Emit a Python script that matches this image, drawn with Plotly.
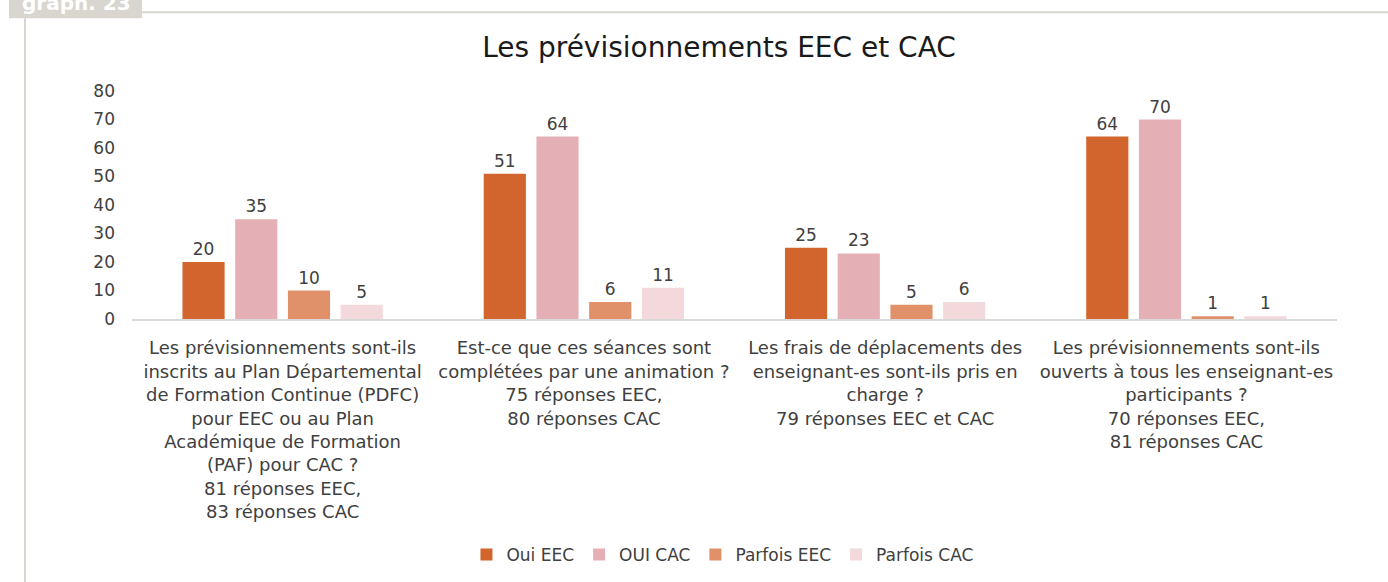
import plotly.graph_objects as go

categories = [
    "Les prévisionnements sont-ils<br>inscrits au Plan Départemental<br>de Formation Continue (PDFC)<br>pour EEC ou au Plan<br>Académique de Formation<br>(PAF) pour CAC ?<br>81 réponses EEC,<br>83 réponses CAC",
    "Est-ce que ces séances sont<br>complétées par une animation ?<br>75 réponses EEC,<br>80 réponses CAC",
    "Les frais de déplacements des<br>enseignant-es sont-ils pris en<br>charge ?<br>79 réponses EEC et CAC",
    "Les prévisionnements sont-ils<br>ouverts à tous les enseignant-es<br>participants ?<br>70 réponses EEC,<br>81 réponses CAC",
]
series_names = ["Oui EEC", "OUI CAC", "Parfois EEC", "Parfois CAC"]
oui_eec = [20, 51, 25, 64]
oui_cac = [35, 64, 23, 70]
parfois_eec = [10, 6, 5, 1]
parfois_cac = [5, 11, 6, 1]
y_ticks = [0, 10, 20, 30, 40, 50, 60, 70, 80]

colors = ["#D2652D", "#E5B0B5", "#E0916A", "#F3D9DB"]
FONT = "DejaVu Sans"
TXT = "#404040"

fig = go.Figure()
for name, vals, col in zip(series_names, [oui_eec, oui_cac, parfois_eec, parfois_cac], colors):
    fig.add_trace(go.Bar(
        name=name, x=categories, y=vals, marker_color=col, marker_line_width=0,
        text=vals, textposition="outside", cliponaxis=False,
        textfont=dict(family=FONT, size=17, color=TXT),
    ))

L, R, T, B = 132, 51, 91, 262
W, H = 1388, 582
pw, ph = W - L - R, H - T - B

def px(x):
    return (x - L) / pw

def py(y):
    return (H - B - y) / ph

shapes = [
    dict(type="rect", xref="paper", yref="paper", x0=px(9), x1=px(142), y0=py(18), y1=py(-5),
         fillcolor="#D9D6D0", line_width=0, layer="below"),
    dict(type="line", xref="paper", yref="paper", x0=px(142), x1=px(1395), y0=py(12), y1=py(12),
         line=dict(color="#D9D6D0", width=2)),
    dict(type="line", xref="paper", yref="paper", x0=px(25), x1=px(25), y0=py(18), y1=py(590),
         line=dict(color="#D9D6D0", width=2)),
]

fig.update_layout(
    width=W, height=H,
    margin=dict(l=L, r=R, t=T, b=B),
    paper_bgcolor="white", plot_bgcolor="white",
    font=dict(family=FONT, color=TXT, size=17),
    title=dict(text="Les prévisionnements EEC et CAC", x=719 / W, xanchor="center",
               y=1 - 47 / H, yanchor="middle", xref="container", yref="container",
               font=dict(family=FONT, size=28, color="#1a1a1a")),
    barmode="group", bargap=0.3, bargroupgap=0.2,
    showlegend=True,
    legend=dict(orientation="h", x=0.49, xanchor="center", y=py(555), yanchor="middle",
                font=dict(family=FONT, size=17, color=TXT), itemwidth=30,
                traceorder="normal"),
    shapes=shapes,
    annotations=[dict(text="<b>graph. 23</b>", xref="paper", yref="paper", x=px(76), y=py(3),
                      xanchor="center", yanchor="middle", showarrow=False,
                      font=dict(family=FONT, size=20, color="white"))],
)
fig.update_xaxes(showline=True, linecolor="#D9D9D9", linewidth=1.5, ticks="", showgrid=False,
                 ticklabelstandoff=12,
                 tickfont=dict(family=FONT, size=18, color=TXT), tickangle=0)
fig.update_yaxes(range=[0, 80], tickvals=y_ticks, showgrid=False, zeroline=False, showline=False,
                 ticks="", ticklabelstandoff=16,
                 tickfont=dict(family=FONT, size=17, color=TXT))

fig.write_html("out.html", config={"displayModeBar": False},
               post_script="document.body.style.margin='0';")
